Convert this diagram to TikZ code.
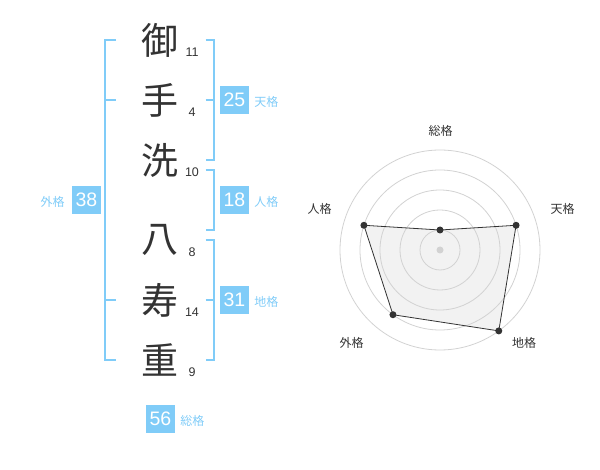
\documentclass[tikz,border=0pt]{standalone}
\usepackage{fontspec}
\setmainfont{Liberation Sans}
\newfontfamily\jpfont{Noto Sans CJK JP}
\usetikzlibrary{positioning}
\definecolor{kakublue}{HTML}{80CCF8}
\definecolor{inkgrey}{HTML}{333333}
\definecolor{ringgrey}{HTML}{D2D2D2}
\definecolor{areagrey}{HTML}{F2F2F2}
\tikzstyle{bracket} = [kakublue,line width=2pt]

\begin{document}
\begin{tikzpicture}[  x = 1pt,
                      y = 1pt
                    ]

\tikzset{kanji/.style = {text = inkgrey, font = \jpfont\fontsize{37}{37}\selectfont, inner sep = 0pt},
         strokes/.style = {text = inkgrey, font = \fontsize{12.5}{13}\selectfont, inner sep = 0pt},
         kakubox/.style = {fill = kakublue, text = white, minimum width = 29pt, minimum height = 28pt,
                           inner sep = 0pt, font = \fontsize{19.5}{19.5}\selectfont},
         kakulabel/.style = {text = kakublue, font = \jpfont\fontsize{12}{12}\selectfont, inner sep = 0pt},
         axislabel/.style = {text = inkgrey, font = \jpfont\fontsize{12}{12}\selectfont, inner sep = 0pt},
         ring/.style = {ringgrey, line width = 0.8pt},
         point/.style = {circle, fill = inkgrey, inner sep = 0pt, minimum size = 7pt}}

\useasboundingbox (0,0) rectangle (600,-470);

% name and strokes
\node[kanji] (c1) at (160,-40) {御};
\node[kanji] (c2) at (160,-100) {手};
\node[kanji] (c3) at (160,-160) {洗};
\node[kanji] (c4) at (160,-240) {八};
\node[kanji] (c5) at (160,-300) {寿};
\node[kanji] (c6) at (160,-360) {重};

\node[strokes] (s1) at ([shift={(32,-12.5)}]c1.center) {11};
\node[strokes] (s2) at ([shift={(32,-12.5)}]c2.center) {4};
\node[strokes] (s3) at ([shift={(32,-12.5)}]c3.center) {10};
\node[strokes] (s4) at ([shift={(32,-12.5)}]c4.center) {8};
\node[strokes] (s5) at ([shift={(32,-12.5)}]c5.center) {14};
\node[strokes] (s6) at ([shift={(32,-12.5)}]c6.center) {9};

% brackets
\draw[bracket] (116,-40) -| (105,-360) -- (116,-360);
\draw[bracket] (105,-100) -- (116,-100);
\draw[bracket] (105,-300) -- (116,-300);
\draw[bracket] (205.5,-40) -| (214,-160) -- (205.5,-160);
\draw[bracket] (205.5,-100) -- (214,-100);
\draw[bracket] (205.5,-170) -| (214,-230) -- (205.5,-230);
\draw[bracket] (205.5,-240) -| (214,-360) -- (205.5,-360);
\draw[bracket] (205.5,-300) -- (214,-300);

% kaku values
\node[kakubox] (ten) at (234.5,-100) {25};
\node[kakulabel, anchor = base west] (tenl) at ([xshift=5pt]ten.base east) {天格};
\node[kakubox] (jin) at (234.5,-200) {18};
\node[kakulabel, anchor = base west] (jinl) at ([xshift=5pt]jin.base east) {人格};
\node[kakubox] (chi) at (234.5,-300) {31};
\node[kakulabel, anchor = base west] (chil) at ([xshift=5pt]chi.base east) {地格};
\node[kakubox] (gai) at (86.5,-200) {38};
\node[kakulabel, anchor = base east] (gail) at ([xshift=-7pt]gai.base west) {外格};
\node[kakubox] (sou) at (160.5,-419) {56};
\node[kakulabel, anchor = base west] (soul) at ([xshift=5pt]sou.base east) {総格};

% radar
\coordinate (cen) at (440,-250);
\coordinate (psou) at ([shift={(90:20)}]cen);
\coordinate (pten) at ([shift={(18:80)}]cen);
\coordinate (pchi) at ([shift={(-54:100)}]cen);
\coordinate (pgai) at ([shift={(-126:80)}]cen);
\coordinate (pjin) at ([shift={(162:80)}]cen);

\fill[areagrey] (psou) -- (pten) -- (pchi) -- (pgai) -- (pjin) -- cycle;
\foreach \r in {20,40,60,80,100}
    \draw[ring] (cen) circle (\r pt);
\fill[ringgrey] (cen) circle (3.5pt);
\draw[inkgrey, line width = 0.8pt] (psou) -- (pten) -- (pchi) -- (pgai) -- (pjin) -- cycle;

\node[point] (dsou) at (psou) {};
\node[point] (dten) at (pten) {};
\node[point] (dchi) at (pchi) {};
\node[point] (dgai) at (pgai) {};
\node[point] (djin) at (pjin) {};

\node[axislabel] (lsou) at (440.5,-130.5) {総格};
\node[axislabel] (lten) at (562.5,-208.5) {天格};
\node[axislabel] (lchi) at (524,-342.5) {地格};
\node[axislabel] (lgai) at (351.5,-342.5) {外格};
\node[axislabel] (ljin) at (319.5,-208.5) {人格};

\end{tikzpicture}
\end{document}
